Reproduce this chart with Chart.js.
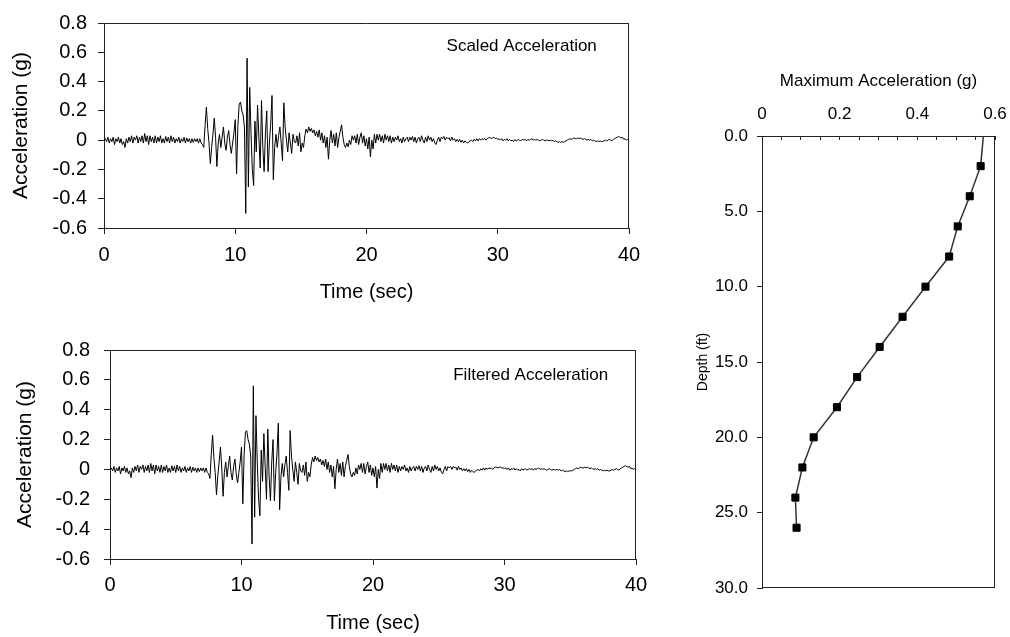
<!DOCTYPE html>
<html>
<head>
<meta charset="utf-8">
<script src="https://cdn.jsdelivr.net/npm/chart.js@4.4.1/dist/chart.umd.min.js"></script>
<style>
  html, body { margin: 0; padding: 0; background: #fff; }
  body { width: 1010px; height: 637px; position: relative; overflow: hidden; }
  canvas { position: absolute; }
</style>
</head>
<body>
<canvas id="scaledChart" width="660" height="310" style="left:0;top:0"></canvas>
<canvas id="filteredChart" width="670" height="317" style="left:0;top:320px"></canvas>
<canvas id="depthChart" width="340" height="587" style="left:670px;top:50px"></canvas>
<script>
  // ===== DATA =====
  const timeStep = 0.1; // sec between samples

  const scaledAccel = [
    0, 0.01, -0.01, 0.02, -0.02, 0.01, -0.01, 0.02, -0.03, 0.01,
    -0.01, 0.02, -0.02, 0.01, -0.03, -0.01, -0.05, 0.01, -0.02, 0.02,
    -0.01, 0.03, -0.02, 0.02, 0, 0.03, -0.02, 0.02, -0.01, 0.03,
    -0.02, 0.045, -0.01, 0.03, -0.03, 0.03, -0.01, 0.02, -0.02, 0.03,
    -0.02, 0.02, -0.01, 0.03, -0.02, 0.01, -0.02, 0.025, -0.01, 0.02,
    -0.02, 0.03, -0.01, 0.02, -0.02, 0.01, -0.01, 0.02, -0.02, 0.01,
    -0.01, 0.02, -0.02, 0.015, -0.01, 0.01, -0.02, 0.01, -0.015, 0.01,
    -0.01, 0.01, -0.02, 0.01, -0.02, -0.03, -0.05, 0.1, 0.225, 0.08,
    -0.02, -0.16, -0.05, 0.04, 0.15, 0.02, -0.18, -0.02, 0.04, -0.05,
    0.02, 0.09, -0.02, -0.07, 0.02, 0.065, -0.03, -0.09, -0.02, 0.05,
    0.14, -0.23, 0.1, 0.245, 0.26, 0.2, 0.17, 0.09, -0.5, 0.56,
    -0.32, 0.36, 0.05, -0.2, -0.31, 0.13, -0.08, 0.24, 0.02, -0.19,
    0.27, -0.05, -0.215, 0.05, 0.2, -0.215, -0.02, 0.11, 0.305, -0.27,
    -0.05, 0.04, -0.05, 0.03, 0.09, -0.02, -0.14, 0.255, 0.09, 0,
    -0.08, 0.05, -0.02, -0.09, 0.04, -0.01, -0.02, 0.03, -0.04, 0.05,
    -0.08, -0.02, -0.05, 0.03, 0.076, 0.05, 0.09, 0.06, 0.08, 0.05,
    0.07, 0.03, 0.06, 0.02, 0.07, 0, 0.05, -0.02, 0.03, -0.05,
    0.02, -0.13, 0, 0.065, -0.02, 0.04, -0.04, 0.05, -0.05, 0.02,
    0.06, 0.105, 0.02, -0.03, -0.05, -0.02, -0.045, 0, -0.03, 0.03,
    0, 0.03, -0.02, 0.04, -0.03, 0.02, 0.05, -0.02, 0.03, -0.04,
    0.01, -0.06, 0.02, -0.115, 0, -0.06, 0.04, -0.02, 0.04, 0,
    0.04, -0.01, 0.03, -0.02, 0.04, 0, 0.03, -0.01, 0.03, -0.02,
    0.02, -0.01, 0.02, 0, 0.03, -0.01, 0.01, -0.02, 0.02, -0.01,
    0.01, 0.02, -0.01, 0.02, 0, 0.025, -0.01, 0.02, -0.02, 0.01,
    0.02, -0.01, 0.03, 0, -0.02, 0.02, -0.01, 0.03, 0, 0.02,
    -0.01, 0.01, -0.02, -0.03, 0, 0.02, -0.01, 0.02, 0.01, 0.025,
    0, 0.02, 0.01, 0.015, -0.005, 0.02, 0, 0.01, -0.01, 0.005,
    -0.01, 0.005, -0.015, 0, -0.02, -0.005, -0.015, -0.02, -0.01, -0.005,
    0, -0.01, 0.005, -0.005, 0.01, -0.005, 0.01, 0, 0.01, 0.005,
    0.01, 0, 0.01, 0.015, 0.02, 0.01, 0.015, 0.02, 0.01, 0.015,
    0.005, 0.01, 0, 0.01, -0.005, 0.005, 0, 0.01, -0.005, 0.005,
    -0.005, 0, -0.01, 0.005, -0.005, 0, 0.005, -0.005, 0, 0.005,
    0, 0.005, -0.005, 0.005, 0, 0.005, 0.01, 0, 0.005, 0,
    0.005, 0, -0.005, 0, 0.005, 0, -0.005, 0, 0, -0.005,
    0, -0.005, 0, -0.01, -0.005, -0.01, -0.015, -0.01, -0.015, -0.01,
    -0.015, -0.01, -0.005, 0, 0.005, 0.01, 0.005, 0.01, 0.015, 0.01,
    0.01, 0.015, 0.01, 0.015, 0.01, 0.005, 0.01, 0.005, 0, 0.005,
    0, 0.005, -0.005, 0, -0.005, -0.01, -0.005, -0.01, -0.005, -0.01,
    -0.01, -0.005, 0, -0.005, 0, 0.005, 0, -0.005, 0.005, 0.01,
    0.015, 0.02, 0.025, 0.02, 0.015, 0.02, 0.005, 0.01, 0, 0.005,
    0
  ];

  const filteredAccel = [
    0, 0.01, -0.01, 0.02, -0.02, 0.01, -0.01, 0.02, -0.03, 0.01,
    -0.01, 0.02, -0.02, 0.01, -0.03, -0.01, -0.055, 0.01, -0.02, 0.02,
    -0.01, 0.03, -0.02, 0.02, 0, 0.03, -0.02, 0.02, -0.01, 0.03,
    -0.02, 0.04, -0.01, 0.03, -0.03, 0.03, -0.01, 0.02, -0.02, 0.03,
    -0.02, 0.02, -0.01, 0.03, -0.02, 0.01, -0.02, 0.025, -0.01, 0.02,
    -0.02, 0.03, -0.01, 0.02, -0.02, 0.01, -0.01, 0.02, -0.02, 0.01,
    -0.01, 0.02, -0.02, 0.015, -0.01, 0.01, -0.02, 0.01, -0.015, 0.01,
    -0.01, 0.01, -0.02, 0.01, -0.02, -0.03, -0.06, 0.1, 0.23, 0.08,
    -0.02, -0.17, -0.04, 0.05, 0.15, 0.01, -0.18, -0.02, 0.05, -0.05,
    0.02, 0.09, -0.02, -0.07, 0.02, 0.07, -0.03, -0.09, -0.02, 0.05,
    0.15, -0.23, 0.1, 0.25, 0.26, 0.2, 0.17, 0.09, -0.5, 0.56,
    -0.32, 0.36, 0.05, -0.2, -0.31, 0.13, -0.08, 0.24, 0.02, -0.2,
    0.27, -0.05, -0.21, 0.05, 0.2, -0.21, -0.02, 0.11, 0.31, -0.27,
    -0.05, 0.04, -0.05, 0.03, 0.09, -0.02, -0.14, 0.26, 0.09, 0,
    -0.08, 0.05, -0.02, -0.1, 0.04, -0.01, -0.02, 0.03, -0.04, 0.05,
    -0.08, -0.02, -0.05, 0.03, 0.08, 0.05, 0.09, 0.06, 0.08, 0.05,
    0.07, 0.03, 0.06, 0.02, 0.07, 0, 0.05, -0.02, 0.03, -0.05,
    0.02, -0.13, 0, 0.07, -0.02, 0.04, -0.04, 0.05, -0.05, 0.02,
    0.06, 0.1, 0.02, -0.03, -0.05, -0.02, -0.04, 0.01, -0.03, 0.03,
    0, 0.04, -0.02, 0.04, -0.03, 0.02, 0.05, -0.02, 0.03, -0.04,
    0.01, -0.05, 0.02, -0.125, 0, -0.06, 0.04, -0.02, 0.04, 0,
    0.04, -0.01, 0.03, -0.02, 0.04, 0, 0.03, -0.01, 0.03, -0.02,
    0.02, -0.01, 0.02, 0, 0.03, -0.01, 0.01, -0.02, 0.02, -0.01,
    0.01, 0.02, -0.01, 0.02, 0, 0.025, -0.01, 0.02, -0.02, 0.01,
    0.02, -0.01, 0.03, 0, -0.02, 0.02, -0.01, 0.03, 0, 0.02,
    -0.01, 0.01, -0.02, -0.03, 0, 0.02, -0.01, 0.02, 0.01, 0.02,
    0, 0.02, 0.01, 0.015, -0.005, 0.02, 0, 0.01, -0.01, 0.005,
    -0.01, 0.005, -0.015, 0, -0.02, -0.005, -0.015, -0.02, -0.01, -0.005,
    0, -0.01, 0.005, -0.005, 0.01, -0.005, 0.01, 0, 0.01, 0.005,
    0.01, 0, 0.01, 0.015, 0.015, 0.01, 0.015, 0.015, 0.01, 0.01,
    0.005, 0.01, 0, 0.01, -0.005, 0.005, 0, 0.01, -0.005, 0.005,
    -0.005, 0, -0.01, 0.005, -0.005, 0, 0.005, -0.005, 0, 0.005,
    0, 0.005, -0.005, 0.005, 0, 0.005, 0.01, 0, 0.005, 0,
    0.005, 0, -0.005, 0, 0.005, 0, -0.005, 0, 0, -0.005,
    0, -0.005, 0, -0.01, -0.005, -0.01, -0.015, -0.01, -0.015, -0.01,
    -0.01, -0.01, -0.005, 0, 0.005, 0.01, 0.005, 0.01, 0.015, 0.01,
    0.01, 0.015, 0.01, 0.015, 0.01, 0.005, 0.01, 0.005, 0, 0.005,
    0, 0.005, -0.005, 0, -0.005, -0.01, -0.005, -0.01, -0.005, -0.01,
    -0.01, -0.005, 0, -0.005, 0, 0.005, 0, -0.005, 0.005, 0.01,
    0.015, 0.02, 0.025, 0.02, 0.015, 0.02, 0.005, 0.01, 0, 0.005,
    0
  ];

  const timeTicks = [0, 10, 20, 30, 40];
  const accelTicks = [-0.6, -0.4, -0.2, 0, 0.2, 0.4, 0.6, 0.8];

  const depthFt = [0, 2, 4, 6, 8, 10, 12, 14, 16, 18, 20, 22, 24, 26];
  const maxAccel = [0.57, 0.563, 0.535, 0.504, 0.482, 0.421, 0.362, 0.303, 0.245, 0.193, 0.133, 0.104, 0.086, 0.089];
  const depthTicks = [0, 5, 10, 15, 20, 25, 30];
  const maxAccelTicks = [0, 0.05, 0.1, 0.15, 0.2, 0.25, 0.3, 0.35, 0.4, 0.45, 0.5, 0.55, 0.6];
  const maxAccelLabels = [0, 0.2, 0.4, 0.6];

  // ===== HELPERS =====
  Chart.defaults.font.family = '"Liberation Sans", Arial, sans-serif';
  Chart.defaults.color = '#000';

  const AXIS = '#222';
  const toPoints = arr => arr.map((a, i) => ({ x: Math.round(i * timeStep * 100) / 100, y: a }));
  const fixTicks = values => scale => { scale.ticks = values.map(v => ({ value: v })); };
  const fixWidth = w => scale => { scale.width = w; };
  // also drop the side padding reserved for the end labels
  const fixHeight = h => scale => { scale.height = h; scale.paddingLeft = 0; scale.paddingRight = 0; };
  const near = (a, b) => Math.abs(a - b) < 1e-9;
  const accelLabel = v => near(v, 0) ? '0' : v.toFixed(1);

  // closes the plot box on the sides that have no axis line
  const frame = {
    id: 'frame',
    afterDraw(chart, args, opts) {
      const { ctx, chartArea: a } = chart;
      const l = Math.round(a.left), t = Math.round(a.top) + 0.5;
      const r = Math.round(a.right) - 0.5, b = Math.round(a.bottom) - 0.5;
      const sides = opts.sides || [];
      ctx.save();
      ctx.strokeStyle = AXIS;
      ctx.lineWidth = 1;
      ctx.beginPath();
      if (sides.includes('top')) { ctx.moveTo(l, t); ctx.lineTo(r + 0.5, t); }
      if (sides.includes('right')) { ctx.moveTo(r, t - 0.5); ctx.lineTo(r, b + 0.5); }
      if (sides.includes('bottom')) { ctx.moveTo(l, b); ctx.lineTo(r + 0.5, b); }
      ctx.stroke();
      ctx.restore();
    }
  };

  // text label placed in data coordinates
  const note = {
    id: 'note',
    afterDraw(chart, args, opts) {
      if (!opts.text) return;
      const { ctx, scales } = chart;
      ctx.save();
      ctx.font = '17px "Liberation Sans", Arial, sans-serif';
      ctx.fillStyle = '#000';
      ctx.textBaseline = 'middle';
      ctx.fillText(opts.text, scales.x.getPixelForValue(opts.x), scales.y.getPixelForValue(opts.y));
      ctx.restore();
    }
  };

  // ===== TIME HISTORIES =====
  function timeChart(id, values, label, box) {
    return new Chart(document.getElementById(id), {
      type: 'line',
      data: {
        datasets: [{
          data: toPoints(values),
          borderColor: '#000',
          borderWidth: 1,
          pointRadius: 0,
          tension: 0
        }]
      },
      options: {
        responsive: false,
        animation: false,
        events: [],
        devicePixelRatio: 1,
        layout: { padding: { left: 0, top: box.top, right: box.right, bottom: 0 } },
        plugins: {
          legend: { display: false },
          tooltip: { enabled: false },
          note: label,
          frame: { sides: ['top', 'right'] }
        },
        scales: {
          x: {
            type: 'linear', min: 0, max: 40,
            afterBuildTicks: fixTicks(timeTicks),
            afterFit: fixHeight(box.xAxis),
            grid: { drawOnChartArea: false, tickLength: 6, color: AXIS },
            border: { color: AXIS },
            ticks: { padding: box.xPad, font: { size: 20 }, autoSkip: false, maxRotation: 0 },
            title: { display: true, text: 'Time (sec)', font: { size: 20 }, padding: { top: 0, bottom: box.xTitle } }
          },
          y: {
            min: -0.6, max: 0.8,
            afterBuildTicks: fixTicks(accelTicks),
            afterFit: fixWidth(box.yAxis),
            grid: { drawOnChartArea: false, tickLength: 6, color: AXIS },
            border: { color: AXIS },
            ticks: { padding: box.yPad, font: { size: 20 }, callback: accelLabel },
            title: { display: true, text: 'Acceleration (g)', font: { size: 21 }, padding: { top: box.yTitle, bottom: 0 } }
          }
        }
      },
      plugins: [frame, note]
    });
  }

  timeChart('scaledChart', scaledAccel,
    { text: 'Scaled Acceleration', x: 26.1, y: 0.64 },
    { top: 22, right: 31, xAxis: 82, yAxis: 104, xPad: 9, yPad: 11, xTitle: 6, yTitle: 9 });

  timeChart('filteredChart', filteredAccel,
    { text: 'Filtered Acceleration', x: 26.1, y: 0.63 },
    { top: 30, right: 34, xAxis: 78, yAxis: 110, xPad: 8, yPad: 14, xTitle: 2, yTitle: 13 });

  // ===== DEPTH PROFILE =====
  new Chart(document.getElementById('depthChart'), {
    type: 'scatter',
    data: {
      datasets: [{
        data: depthFt.map((d, i) => ({ x: maxAccel[i], y: d })),
        showLine: true,
        borderColor: '#333',
        borderWidth: 1.5,
        pointStyle: 'rect',
        pointRadius: depthFt.map((d, i) => (i === 0 ? 0 : 5)),
        pointBackgroundColor: '#000',
        pointBorderColor: '#000',
        pointBorderWidth: 1
      }]
    },
    options: {
      responsive: false,
      animation: false,
      events: [],
      devicePixelRatio: 1,
      layout: { padding: { left: 0, top: 0, right: 15, bottom: 49 } },
      plugins: {
        legend: { display: false },
        tooltip: { enabled: false },
        frame: { sides: ['right', 'bottom'] }
      },
      scales: {
        x: {
          type: 'linear', position: 'top', min: 0, max: 0.6,
          afterBuildTicks: fixTicks(maxAccelTicks),
          afterFit: fixHeight(86),
          grid: { drawOnChartArea: false, tickLength: -4, color: AXIS },
          border: { color: AXIS },
          ticks: {
            padding: 15, font: { size: 17 }, autoSkip: false, maxRotation: 0,
            callback: v => maxAccelLabels.some(m => near(m, v)) ? accelLabel(v) : ''
          },
          title: { display: true, text: 'Maximum Acceleration (g)', font: { size: 17 }, padding: { top: 21, bottom: 0 } }
        },
        y: {
          type: 'linear', reverse: true, min: 0, max: 30,
          afterBuildTicks: fixTicks(depthTicks),
          afterFit: fixWidth(92),
          grid: { drawOnChartArea: false, tickLength: 5, color: AXIS },
          border: { color: AXIS },
          ticks: { padding: 9, font: { size: 17 }, callback: v => v.toFixed(1) },
          title: { display: true, text: 'Depth (ft)', font: { size: 14 }, padding: { top: 25, bottom: 0 } }
        }
      }
    },
    plugins: [frame]
  });
</script>
</body>
</html>
